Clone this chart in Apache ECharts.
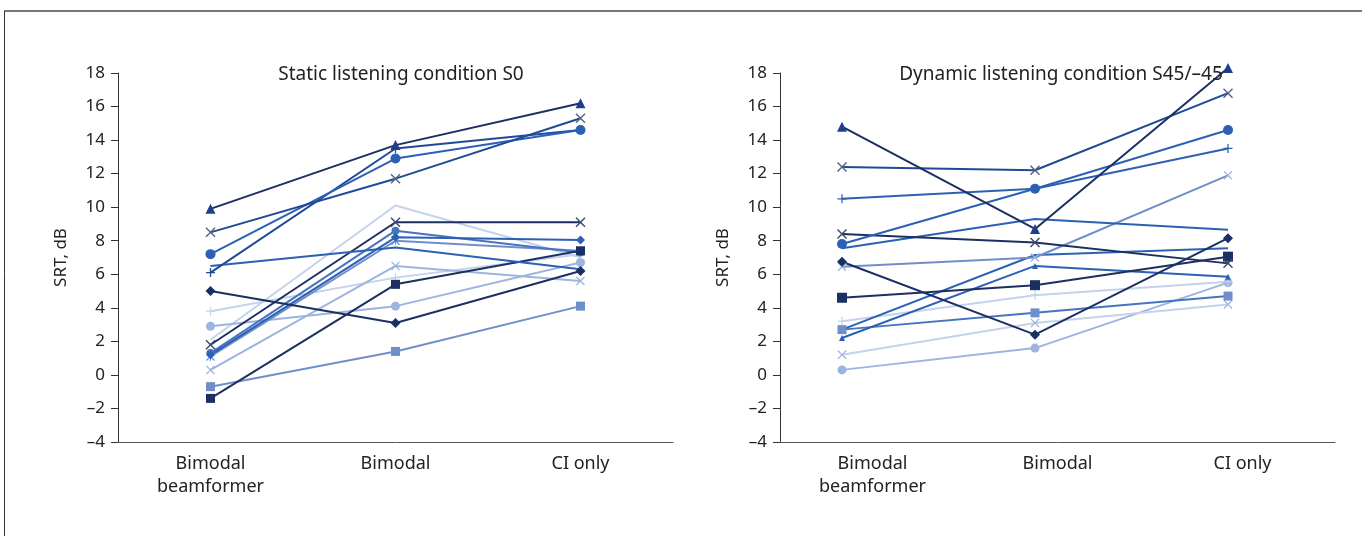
<!DOCTYPE html>
<html>
<head>
<meta charset="utf-8">
<script src="https://cdn.jsdelivr.net/npm/echarts@6/dist/echarts.min.js"></script>
<style>
html,body{margin:0;padding:0;background:#fff;}
#main{width:1362px;height:536px;}
</style>
</head>
<body>
<div id="main"></div>
<script>
// categories + values (SRT in dB)
var categories = ['Bimodal\nbeamformer', 'Bimodal', 'CI only'];
var yTicks = [-4, 18, 2]; // min, max, step

// static listening condition S0
var sTriangle  = [9.9, 13.7, 16.2];
var sCrossA    = [8.5, 11.7, 15.3];
var sCircleA   = [7.2, 12.9, 14.6];
var sPlusA     = [6.1, 13.5, 14.6];
var sLineA     = [6.5, 7.6, 6.3];
var sDiamondA  = [5.0, 3.1, 6.2];
var sPlusB     = [3.8, 5.8, 7.2];
var sCircleB   = [2.9, 4.1, 6.7];
var sCrossB    = [1.8, 9.1, 9.1];
var sDiamondB  = [1.2, 8.2, 8.05];
var sStar      = [1.1, 8.0, 7.4];
var sCrossC    = [0.3, 6.5, 5.6];
var sSquareA   = [-0.7, 1.4, 4.1];
var sSquareB   = [-1.4, 5.4, 7.4];
var sCircleC   = [1.3, 8.6, 7.3];
var sLineB     = [2.1, 10.1, 7.0];

// dynamic listening condition S45/-45
var dTriangle  = [14.8, 8.7, 18.3];
var dCrossA    = [12.4, 12.2, 16.8];
var dPlusA     = [10.5, 11.1, 13.5];
var dCircleA   = [7.8, 11.1, 14.6];
var dCrossB    = [8.4, 7.9, 6.65];
var dLineA     = [7.55, 9.3, 8.65];
var dDiamond   = [6.75, 2.4, 8.15];
var dCrossC    = [6.45, 7.0, 11.9];
var dSquareA   = [4.6, 5.35, 7.05];
var dPlusB     = [3.2, 4.75, 5.55];
var dSquareB   = [2.7, 3.7, 4.7];
var dTriSmall  = [2.2, 6.5, 5.85];
var dLineB     = [2.7, 7.15, 7.55];
var dCrossD    = [1.2, 3.1, 4.2];
var dCircleB   = [0.3, 1.6, 5.5];

var X_SYM = 'path://M0,1L1,0L5,4L9,0L10,1L6,5L10,9L9,10L5,6L1,10L0,9L4,5Z';
var PLUS_SYM = 'path://M4.3,0H5.7V4.3H10V5.7H5.7V10H4.3V5.7H0V4.3H4.3Z';
var STAR_SYM = 'path://M0,1L1,0L5,4L9,0L10,1L6,5L10,9L9,10L5,6L1,10L0,9L4,5Z M4.5,0H5.5V10H4.5Z';

var navy = '#1b2f63', dblue = '#1f4a97', blue = '#2c60b5', mblue = '#4674c0',
    steel = '#6f8fca', light = '#9db4de', pale = '#c4d2ec';

function ser(name, data, color, symbol, size, axis, markColor) {
    return {
        name: name, type: 'line', data: data,
        xAxisIndex: axis, yAxisIndex: axis,
        symbol: symbol, symbolSize: size,
        clip: false,
        lineStyle: {color: color, width: 2},
        itemStyle: {color: markColor || color},
        z: 3, animation: false
    };
}

var series = [
    ser('s16', sLineB, pale, 'none', 0, 0),
    ser('s13', sSquareA, steel, 'rect', 9, 0),
    ser('s8', sCircleB, light, 'circle', 9, 0),
    ser('s7', sPlusB, pale, PLUS_SYM, 9, 0),
    ser('s12', sCrossC, light, X_SYM, 9, 0),
    ser('s11', sStar, steel, STAR_SYM, 9, 0),
    ser('s15', sCircleC, mblue, 'circle', 8, 0),
    ser('s10', sDiamondB, blue, 'diamond', 9, 0),
    ser('s14', sSquareB, navy, 'rect', 9, 0),
    ser('s9', sCrossB, navy, X_SYM, 10, 0, '#3a4a6a'),
    ser('s6', sDiamondA, navy, 'diamond', 10, 0),
    ser('s5', sLineA, blue, 'none', 0, 0),
    ser('s4', sPlusA, dblue, PLUS_SYM, 9, 0),
    ser('s3', sCircleA, blue, 'circle', 10, 0),
    ser('s2', sCrossA, dblue, X_SYM, 10, 0, '#56627e'),
    ser('s1', sTriangle, navy, 'triangle', 10, 0, '#1f3f8c'),

    ser('d15', dCircleB, light, 'circle', 9, 2),
    ser('d14', dCrossD, pale, X_SYM, 9, 2, light),
    ser('d10', dPlusB, pale, PLUS_SYM, 9, 2),
    ser('d11', dSquareB, mblue, 'rect', 9, 2, steel),
    ser('d13', dLineB, blue, 'none', 0, 2),
    ser('d12', dTriSmall, blue, 'triangle', 6, 2),
    ser('d9', dSquareA, navy, 'rect', 10, 2),
    ser('d8', dCrossC, steel, X_SYM, 9, 2, light),
    ser('d7', dDiamond, navy, 'diamond', 10, 2),
    ser('d6', dLineA, blue, 'none', 0, 2),
    ser('d5', dCrossB, navy, X_SYM, 10, 2, '#3a4a6a'),
    ser('d4', dCircleA, blue, 'circle', 10, 2),
    ser('d3', dPlusA, blue, PLUS_SYM, 9, 2),
    ser('d2', dCrossA, dblue, X_SYM, 10, 2, '#56627e'),
    ser('d1', dTriangle, navy, 'triangle', 10, 2, '#1f3f8c')
];

var font = "'Noto Sans', 'Open Sans', sans-serif";

function xAx(idx, show) {
    return {
        type: 'category', gridIndex: idx, data: categories,
        boundaryGap: true, show: show,
        axisLine: {onZero: false, lineStyle: {color: '#555', width: 1}},
        axisTick: {length: 8, lineStyle: {color: '#555'}},
        axisLabel: {fontSize: 18, color: '#222', fontFamily: font, margin: 10, lineHeight: 23}
    };
}
function yAx(idx, show) {
    return {
        type: 'value', gridIndex: idx, show: show,
        min: yTicks[0], max: yTicks[1], interval: yTicks[2],
        name: 'SRT, dB', nameLocation: 'middle', nameGap: 48,
        nameTextStyle: {fontSize: 17, color: '#222', fontFamily: font},
        axisLine: {show: true, lineStyle: {color: '#333'}},
        axisTick: {show: true, length: 7, lineStyle: {color: '#333'}},
        splitLine: {show: false},
        axisLabel: {
            fontSize: 17, color: '#222', fontFamily: font, margin: 13,
            formatter: function (v) { return String(v).replace('-', '\u2013'); }
        }
    };
}

var option = {
    backgroundColor: '#fff',
    animation: false,
    title: [{
        text: 'Static listening condition S0',
        left: 396, top: 60, textAlign: 'center',
        textStyle: {fontSize: 19, fontWeight: 'normal', color: '#222', fontFamily: font}
    }, {
        text: 'Dynamic listening condition S45/\u201345',
        left: 1056, top: 60, textAlign: 'center',
        textStyle: {fontSize: 19, fontWeight: 'normal', color: '#222', fontFamily: font}
    }],
    grid: [
        {left: 118, top: 73, width: 555, height: 369},
        {left: 780, top: 73, width: 555, height: 369},
        {left: 745.5, top: 73, width: 579, height: 369}
    ],
    xAxis: [xAx(0, true), xAx(1, true), xAx(2, false)],
    yAxis: [yAx(0, true), yAx(1, true), yAx(2, false)],
    graphic: [
        {type: 'line', shape: {x1: 4, y1: 11, x2: 1362, y2: 11}, style: {stroke: '#777', lineWidth: 2}},
        {type: 'line', shape: {x1: 4.5, y1: 11, x2: 4.5, y2: 536}, style: {stroke: '#333', lineWidth: 1}}
    ],
    series: series
};

var myChart = echarts.init(document.getElementById('main'));
myChart.setOption(option);
window.addEventListener('resize', function () {
    myChart.resize();
});
</script>
</body>
</html>
